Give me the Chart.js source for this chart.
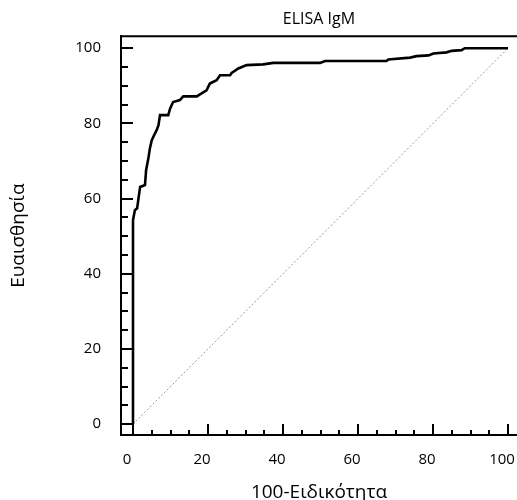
<!DOCTYPE html>
<html>
<head>
<meta charset="utf-8">
<script src="https://cdn.jsdelivr.net/npm/chart.js@4/dist/chart.umd.min.js"></script>
<style>
  html, body { margin: 0; padding: 0; background: #fff; }
  #wrap { width: 517px; height: 500px; }
</style>
</head>
<body>
<div id="wrap"><canvas id="roc"></canvas></div>
<script>
// ---------- DATA ----------
// ROC curve vertices (100-specificity, sensitivity).
const fpr = [0, 0, 0.5, 1.1, 1.4, 1.9, 3.2, 3.5, 4.1, 4.5, 5.0, 5.4, 6.3, 6.8, 7.2, 9.4, 9.9, 10.7, 12.5, 13.4, 17.0,
  19.6, 20.5, 22.3, 23.2, 25.9, 26.3, 28.1, 30.3, 34.7, 37.4, 49.9, 51.2, 67.6, 68.1, 73.9, 75.6, 78.8, 80.1, 83.6,
  85.0, 87.6, 88.5, 100];
const sensitivity = [0, 54.3, 56.9, 57.4, 59.6, 63.1, 63.6, 67.6, 70.7, 73.3, 75.5, 76.4, 78.2, 79.5, 82.2, 82.2, 84.0,
  85.7, 86.2, 87.2, 87.2, 88.8, 90.6, 91.5, 92.8, 92.8, 93.4, 94.6, 95.5, 95.7, 96.1, 96.1, 96.6, 96.6, 97.0, 97.5,
  97.9, 98.1, 98.6, 98.9, 99.3, 99.5, 100, 100];
const diagonal = [0, 100];
const tickLabels = [0, 20, 40, 60, 80, 100];
const chartTitle = "ELISA IgM";
const xTitle = "100-Ειδικότητα";
const yTitle = "Ευαισθησία";

const FONT = "'Open Sans', sans-serif";

// inward tick marks every 5 units, longer at the labelled ones
const innerTicks = {
  id: "innerTicks",
  afterDatasetsDraw(chart) {
    const { ctx, chartArea, scales } = chart;
    ctx.save();
    ctx.strokeStyle = "#000";
    ctx.lineWidth = 2;
    ctx.beginPath();
    for (let v = 0; v <= 100; v += 5) {
      const major = v % 20 === 0;
      const px = Math.round(scales.x.getPixelForValue(v));
      ctx.moveTo(px, chartArea.bottom);
      ctx.lineTo(px, chartArea.bottom - (major ? 11 : 5));
      const py = Math.round(scales.y.getPixelForValue(v));
      ctx.moveTo(chartArea.left, py);
      ctx.lineTo(chartArea.left + (major ? 12 : 7), py);
    }
    // top frame line (no right edge in the reference)
    ctx.moveTo(chartArea.left, chartArea.top);
    ctx.lineTo(chartArea.right, chartArea.top);
    ctx.stroke();
    ctx.restore();
  }
};

new Chart(document.getElementById("roc"), {
  type: "line",
  data: {
    datasets: [
      {
        data: fpr.map((x, i) => ({ x, y: sensitivity[i] })),
        borderColor: "#000",
        borderWidth: 2.6,
        pointRadius: 0,
        tension: 0,
        fill: false
      },
      {
        data: diagonal.map(v => ({ x: v, y: v })),
        borderColor: "#999",
        borderWidth: 1,
        borderDash: [2, 2],
        pointRadius: 0,
        fill: false
      }
    ]
  },
  options: {
    responsive: true,
    maintainAspectRatio: false,
    animation: false,
    layout: { padding: 0 },
    plugins: {
      legend: { display: false },
      tooltip: { enabled: false },
      title: {
        display: true,
        text: chartTitle,
        fullSize: false,
        color: "#000",
        font: { family: FONT, size: 16, weight: "normal" },
        padding: { top: 10, bottom: 7 }
      }
    },
    scales: {
      x: {
        type: "linear",
        min: -3.2,
        max: 102.4,
        afterFit(s) { s.height = 65; s.paddingLeft = 0; s.paddingRight = 0; },
        afterBuildTicks(s) { s.ticks = tickLabels.map(v => ({ value: v })); },
        grid: { display: false, drawTicks: false },
        border: { display: true, color: "#000", width: 2 },
        ticks: { color: "#000", padding: 16, maxRotation: 0, labelOffset: -6, font: { family: FONT, size: 15 } },
        title: {
          display: true,
          text: xTitle,
          color: "#000",
          font: { family: FONT, size: 19 },
          padding: { top: 0, bottom: -4 }
        }
      },
      y: {
        type: "linear",
        min: -2.9,
        max: 103.2,
        afterFit(s) { s.width = 121; s.paddingTop = 0; s.paddingBottom = 0; },
        afterBuildTicks(s) { s.ticks = tickLabels.map(v => ({ value: v })); },
        grid: { display: false, drawTicks: false },
        border: { display: true, color: "#000", width: 2 },
        ticks: { color: "#000", padding: 20, font: { family: FONT, size: 15 } },
        title: {
          display: true,
          text: yTitle,
          color: "#000",
          font: { family: FONT, size: 19 },
          padding: { top: 7, bottom: 0 }
        }
      }
    }
  },
  plugins: [innerTicks]
});
</script>
</body>
</html>
